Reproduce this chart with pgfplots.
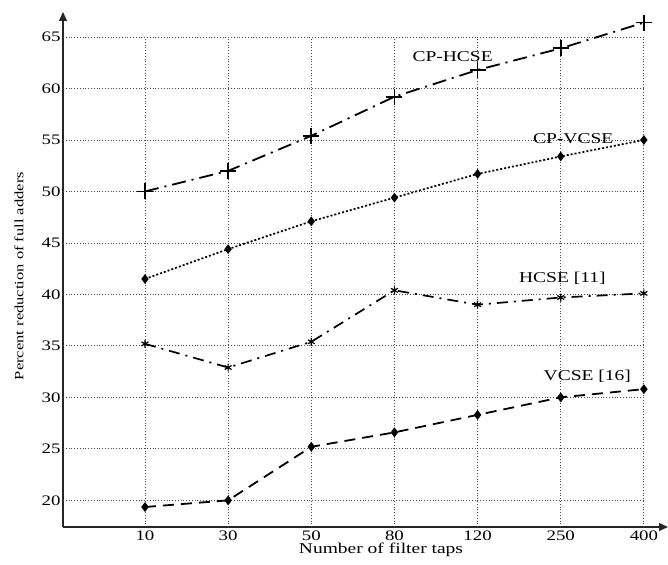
\documentclass[border=0pt]{standalone}
\usepackage{fontspec}
\setmainfont{Liberation Serif}[FakeStretch=1.3]
\usepackage{pgfplots}
\pgfplotsset{compat=1.18}
\usetikzlibrary{arrows.meta}
\begin{document}
\begin{tikzpicture}
\begin{axis}[
  at={(0,0)}, anchor=south west,
  scale only axis, width=605pt, height=515pt,
  xmin=-0.986, xmax=6.29, ymin=17.41, ymax=67.43,
  axis lines=left,
  axis line style={line width=1.4pt, color=black!85, -{Triangle[length=9pt,width=8pt]}},
  xtick={0,...,6}, xticklabels={10,30,50,80,120,250,400},
  ytick={20,25,...,65},
  major tick length=0pt,
  tick label style={font=\fontsize{14.5}{16}\selectfont},
  yticklabel style={xshift=1pt},
  /pgf/number format/assume math mode=true,
  clip=false,
]
\pgfplotsinvokeforeach{0,...,6}{
  \draw[black!70, line width=0.8pt, dotted] (axis cs:#1,17.41) -- (axis cs:#1,65);
}
\pgfplotsinvokeforeach{20,25,...,65}{
  \draw[black!70, line width=0.8pt, dotted] (axis cs:-0.986,#1) -- (axis cs:6,#1);
}
% CP-HCSE
\addplot[black, line width=1.8pt, dash pattern=on 14pt off 6pt on 2pt off 6pt,
  mark=+, mark size=8pt, mark options={solid, line width=1.8pt}]
  coordinates {(0,50.0) (1,52.0) (2,55.4) (3,59.2) (4,61.8) (5,63.9) (6,66.4)};
% CP-VCSE
\addplot[black, line width=1.7pt, dash pattern=on 2pt off 2pt,
  mark=diamond*, mark size=3.5pt, mark options={solid}]
  coordinates {(0,41.5) (1,44.4) (2,47.1) (3,49.4) (4,51.7) (5,53.4) (6,55.0)};
% HCSE [11]
\addplot[black, line width=1.7pt, dash pattern=on 11pt off 6pt on 2pt off 6pt,
  mark=asterisk, mark size=4pt, mark options={solid, line width=1.2pt}]
  coordinates {(0,35.2) (1,32.9) (2,35.4) (3,40.4) (4,39.0) (5,39.7) (6,40.1)};
% VCSE [16]
\addplot[black, line width=1.8pt, dash pattern=on 11pt off 7pt,
  mark=diamond*, mark size=3.5pt, mark options={solid}]
  coordinates {(0,19.35) (1,20.0) (2,25.2) (3,26.6) (4,28.3) (5,30.0) (6,30.8)};
\node[font=\fontsize{15}{17}\selectfont] at (axis cs:3.70,63.1) {CP-HCSE};
\node[font=\fontsize{15}{17}\selectfont] at (axis cs:5.15,55.1) {CP-VCSE};
\node[font=\fontsize{15}{17}\selectfont] at (axis cs:5.02,41.6) {HCSE [11]};
\node[font=\fontsize{15}{17}\selectfont] at (axis cs:5.32,32.0) {VCSE [16]};
\end{axis}
\node[font=\fontsize{15}{17}\selectfont] at (318pt,-23pt) {Number of filter taps};
\node[font=\fontsize{12.7}{15}\selectfont, rotate=90] at (-44pt,251pt) {Percent reduction of full adders};
\pgfresetboundingbox
\path (-63pt,-37pt) rectangle (605pt,527pt);
\end{tikzpicture}
\end{document}
